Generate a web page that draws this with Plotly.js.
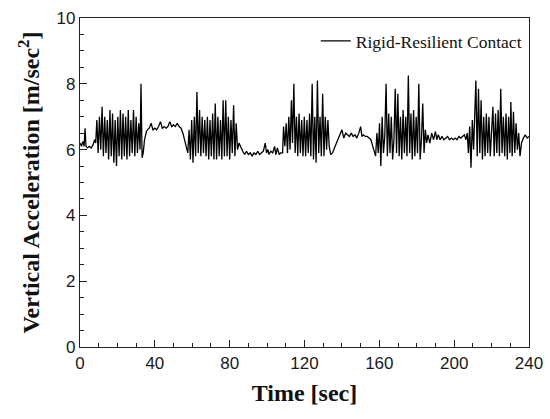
<!DOCTYPE html>
<html>
<head>
<meta charset="utf-8">
<script src="https://cdn.plot.ly/plotly-3.0.1.min.js"></script>
<style>html,body{margin:0;padding:0;background:#fff;}#chart{width:550px;height:419px;}</style>
</head>
<body>
<div id="chart"></div>
<script>
// Time [sec] and vertical acceleration [m/sec^2], segment by segment
var quiet0T = [0,0.8,1.5,2.2,2.7,3.2,4,5,6,7,7.8,8.4];
var quiet0V = [6.2,6.1,6.25,6.1,6.65,6.1,6.05,6.1,6.05,6.15,6.3,6.2];

var burst1T = [9.0,9.7,10.4,11.1,11.8,12.5,13.2,13.9,14.6,15.3,16.0,16.7,17.4,18.1,18.8,19.5,20.2,20.9,21.6,22.3,23.0,23.7,24.4,25.1,25.8,26.5,27.2,27.9,28.6,29.3,30.0,30.7,31.4,32.1,32.6,33.2,33.8,34.5,35.5];
var burst1V = [6.9,5.9,7.0,6.0,7.3,5.8,7.0,5.9,6.9,5.7,7.2,5.8,7.1,5.6,6.9,5.5,7.0,5.8,7.2,5.7,7.1,5.8,7.0,5.7,7.2,5.8,6.9,5.9,7.2,5.8,7.0,5.9,6.8,6.0,8.0,5.75,5.9,6.3,6.55];

var quiet1T = [36,37,38,39,40,41,42,43,44,45,46,47,48,49,50,51,52,53,54,55,56,57,57.6];
var quiet1V = [6.6,6.65,6.8,6.6,6.65,6.6,6.7,6.85,6.65,6.7,6.65,6.7,6.85,6.7,6.75,6.7,6.8,6.7,6.65,6.5,6.3,6.05,5.9];

var burst2T = [58.3,59.0,59.7,60.4,61.1,61.8,62.5,63.2,63.9,64.6,65.3,66.0,66.7,67.4,68.1,68.8,69.5,70.2,70.9,71.6,72.3,73.0,73.7,74.4,75.1,75.8,76.5,77.2,77.9,78.6,79.3,80.0,80.7,81.4,82.1,82.8,83.5,84.2,85.0];
var burst2V = [6.6,5.7,6.9,5.6,7.0,5.8,7.75,5.9,7.2,5.8,7.0,5.9,6.9,5.8,7.0,5.7,6.9,5.8,7.1,5.7,7.4,5.7,7.0,5.8,6.9,5.7,7.5,5.8,7.5,5.8,7.0,5.7,6.9,5.9,7.35,5.8,6.8,6.0,6.2];

var quiet2T = [86,87,88,89,90,91,92,93,94,95,96,97,98,99,99.7,100.5,101,102,103,104,104.7,105.5,106.5,107.3];
var quiet2V = [6.05,5.95,5.85,5.95,5.85,5.9,5.8,5.9,5.85,5.95,5.85,5.9,5.95,6.2,5.9,6.0,5.85,5.95,5.9,6.1,5.85,6.05,5.85,5.9];

var burst3T = [108.3,108.8,109.5,110.2,110.9,111.6,112.3,113.0,113.6,114.3,115.0,115.7,116.4,117.1,117.8,118.5,119.2,119.9,120.6,121.3,122.0,122.7,123.4,124.1,124.8,125.5,126.2,126.9,127.6,128.3,129.0,129.7,130.4,131.1,131.8,132.5,133.2,134,135,136,137];
var burst3V = [5.9,6.7,6.1,6.8,5.9,7.0,6.0,7.5,6.2,8.0,5.9,7.0,5.8,7.1,5.9,6.9,5.8,7.0,5.8,6.9,5.9,7.1,5.8,8.0,5.7,7.0,5.6,8.1,5.9,7.0,5.8,7.7,5.8,7.0,6.0,6.9,6.1,5.85,5.9,6.05,6.2];

var quiet3T = [138,139,140,141,142,143,144,145,146,147,148,149,150,150.7,151.5,152.5,153.5,154.5,155.5,156.5,157.3];
var quiet3V = [6.3,6.45,6.6,6.35,6.5,6.45,6.4,6.5,6.4,6.45,6.35,6.5,6.7,6.4,6.45,6.4,6.4,6.35,6.3,6.1,5.95];

var burst4T = [158.0,158.7,159.4,160.1,160.8,161.5,162.2,162.9,163.6,164.3,165.0,165.7,166.4,167.1,167.8,168.5,169.2,169.9,170.6,171.3,172.0,172.7,173.4,174.1,174.8,175.5,176.2,176.9,177.6,178.3,179.0,179.7,180.4,181.1,181.8,182.5,183.2,183.9,184.6,185.3];
var burst4V = [5.8,6.5,5.9,6.8,5.5,7.0,5.9,6.4,8.0,5.8,7.1,5.9,7.0,5.7,6.3,7.85,5.9,7.7,5.8,7.0,5.7,7.2,5.9,7.0,5.8,8.25,5.9,7.1,5.7,7.2,5.8,7.0,5.9,8.0,5.7,6.3,7.4,5.9,6.6,6.2];

var quiet4T = [186,187,188,189,190,190.7,191.5,192.5,193.5,194.5,195.5,196.5,197.5,198.5,199.5,200.5,201.5,202.5,203.5,204.5,205.5,206.3,207];
var quiet4V = [6.45,6.2,6.5,6.3,6.55,6.3,6.45,6.3,6.4,6.3,6.35,6.4,6.3,6.35,6.3,6.35,6.3,6.4,6.35,6.4,6.45,6.3,6.5];

var burst5T = [207.6,208.3,209.0,209.7,210.4,211.1,211.6,212.3,213.0,213.7,214.4,215.1,215.8,216.5,217.2,217.9,218.6,219.3,220.0,220.7,221.4,222.1,222.8,223.5,224.2,224.9,225.6,226.3,227.0,227.7,228.4,229.1,229.8,230.3,231.0,231.7,232.4,233.1,233.8,234.5,235.2,236.0,237,238,239,240];
var burst5V = [5.9,6.7,5.45,6.9,6.0,7.3,8.1,5.8,7.85,5.9,7.5,5.7,7.0,5.8,7.1,5.9,7.0,5.8,6.4,7.3,5.8,7.1,5.9,7.2,5.8,7.85,5.9,7.0,5.8,7.1,5.7,7.0,5.9,7.45,5.8,7.15,5.9,6.8,6.0,6.5,5.8,6.2,6.35,6.45,6.35,6.4];

var seriesName = 'Rigid-Resilient Contact';
var xTitle = 'Time [sec]';
var yTitle = 'Vertical Acceleration [m/sec<sup>2</sup>]';

var timeSec = [].concat(quiet0T, burst1T, quiet1T, burst2T, quiet2T, burst3T, quiet3T, burst4T, quiet4T, burst5T);
var accel = [].concat(quiet0V, burst1V, quiet1V, burst2V, quiet2V, burst3V, quiet3V, burst4V, quiet4V, burst5V);

var trace = {
  x: timeSec, y: accel, type: 'scatter', mode: 'lines', name: seriesName,
  line: {color: '#000000', width: 1.3}
};

var tickFont = {family: 'Liberation Sans, Arial, sans-serif', size: 17, color: '#1a1a1a'};
var titleFont = {family: 'Liberation Serif, Times New Roman, serif', size: 24, color: '#111111', weight: 'bold'};

var layout = {
  width: 550, height: 419,
  margin: {l: 80, r: 21, t: 18, b: 72, pad: 0},
  paper_bgcolor: '#ffffff', plot_bgcolor: 'rgba(0,0,0,0)',
  showlegend: true,
  legend: {x: 0.995, y: 0.985, xanchor: 'right', yanchor: 'top', bgcolor: 'rgba(0,0,0,0)',
           font: {family: 'Liberation Serif, Times New Roman, serif', size: 17.5, color: '#111'}},
  xaxis: {
    range: [0, 240], tickmode: 'linear', tick0: 0, dtick: 40, ticks: 'inside', ticklen: 7, tickwidth: 1.3, tickcolor: '#222',
    minor: {tickmode: 'linear', tick0: 0, dtick: 10, ticks: 'inside', ticklen: 4, tickwidth: 1.2, tickcolor: '#222'},
    showline: true, linewidth: 1.3, linecolor: '#222', mirror: true, layer: 'above traces',
    showgrid: false, zeroline: false, tickfont: tickFont,
    title: {text: xTitle, font: titleFont, standoff: 12}
  },
  yaxis: {
    range: [0, 10], tickmode: 'linear', tick0: 0, dtick: 2, ticks: 'inside', ticklen: 7, tickwidth: 1.3, tickcolor: '#222',
    minor: {tickmode: 'linear', tick0: 0, dtick: 0.5, ticks: 'inside', ticklen: 4, tickwidth: 1.2, tickcolor: '#222'},
    showline: true, linewidth: 1.3, linecolor: '#222', mirror: true, layer: 'above traces',
    showgrid: false, zeroline: false, tickfont: tickFont,
    title: {text: yTitle, font: titleFont, standoff: 10}
  }
};

Plotly.newPlot('chart', [trace], layout, {displayModeBar: false});
</script>
</body>
</html>
